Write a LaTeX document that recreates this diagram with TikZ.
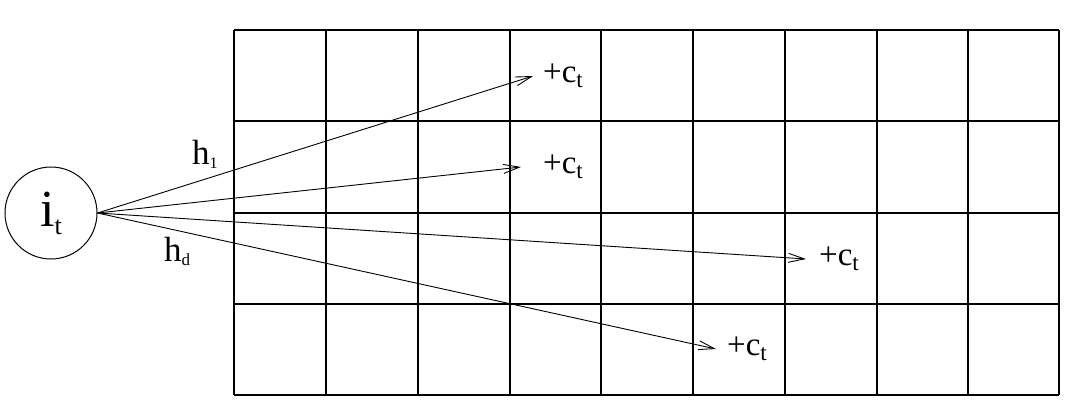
\documentclass[tikz,border=0pt]{standalone}
\usepackage{fontspec}
\setmainfont{Liberation Serif}
\usetikzlibrary{arrows.meta, positioning}

\tikzset{
    unit/.style={circle, draw, line width=1pt, minimum size=92pt, inner sep=0pt,
        font=\fontsize{52}{58}\selectfont},
    link/.style={-{Straight Barb[length=16pt, width=9pt, line width=0.9pt]}, line width=0.9pt},
    plus/.style={inner sep=0pt, font=\fontsize{33}{38}\selectfont},
    weight/.style={inner sep=0pt, anchor=base west, font=\fontsize{35}{40}\selectfont}
}

\begin{document}
\begin{tikzpicture}[x=1pt, y=-1pt]
        \useasboundingbox (0,0) rectangle (1069,413);

        % Draw grid
        \foreach \x in {234,326,418,510,601,693,785,877,968,1059}
            \draw[line width=1.3pt] (\x,30) -- (\x,395);
        \foreach \y in {30,121,213,304,395}
            \draw[line width=1.3pt] (234,\y) -- (1059,\y);

        % Draw nodes
        \node[unit] (in) at (51,213) {i{\fontsize{26}{30}\selectfont\raisebox{-8pt}{t}}};
        \coordinate (e1) at (533,76);
        \coordinate (e2) at (521,167);
        \coordinate (e3) at (806,259);
        \coordinate (e4) at (716,349);
        \node[plus, right=10pt of e1] (c1) {+c\textsubscript{t}};
        \node[plus, right=22pt of e2] (c2) {+c\textsubscript{t}};
        \node[plus, right=13pt of e3] (c3) {+c\textsubscript{t}};
        \node[plus, right=11pt of e4] (c4) {+c\textsubscript{t}};

        % Draw connections
        \draw[link] (in.east) -- (e1);
        \draw[link] (in.east) -- (e2);
        \draw[link] (in.east) -- (e3);
        \draw[link] (in.east) -- (e4);

        % Labels
        \node[weight] (h1) at (192,164) {h{\fontsize{16}{18}\selectfont\raisebox{-4pt}{1}}};
        \node[weight] (hd) at (164,261) {h{\fontsize{17}{19}\selectfont\raisebox{-4pt}{d}}};
    \end{tikzpicture}
\end{document}
